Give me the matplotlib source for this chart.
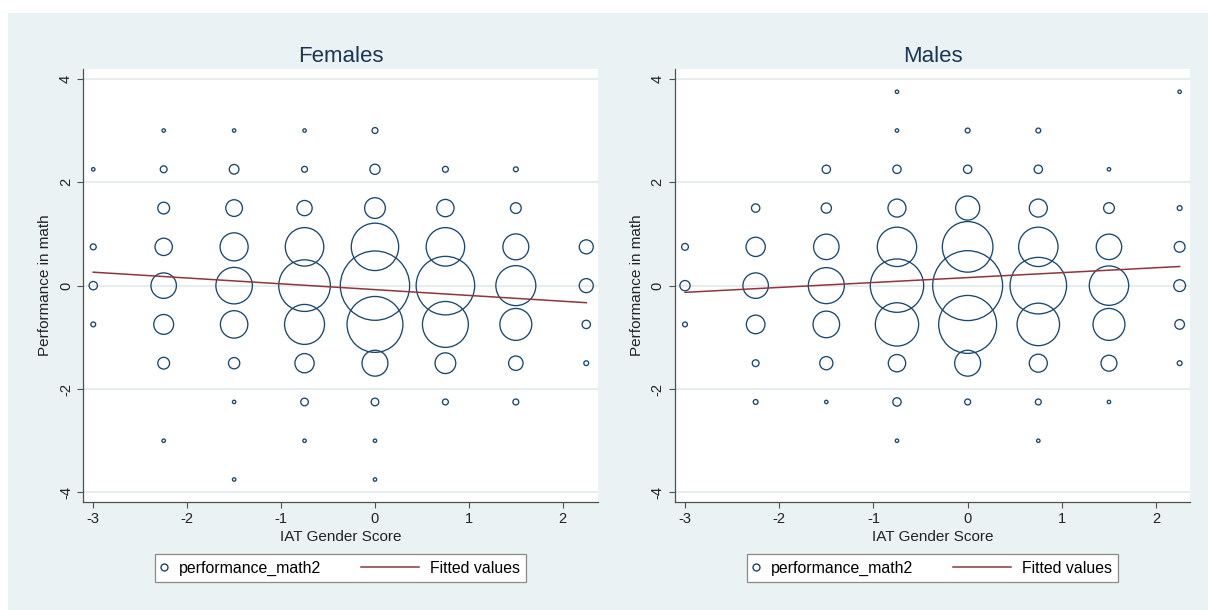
import matplotlib
matplotlib.use("Agg")
import matplotlib.pyplot as plt
from matplotlib.lines import Line2D
from matplotlib.patches import Rectangle
from matplotlib.legend_handler import HandlerLine2D

plt.rcParams['font.family'] = ['Liberation Sans', 'DejaVu Sans']
plt.rcParams['axes.unicode_minus'] = False

# ---------------- data ----------------
panel_titles = ["Females", "Males"]
x_label = "IAT Gender Score"
y_label = "Performance in math"
legend_labels = ["performance_math2", "Fitted values"]
x_ticks = [-3, -2, -1, 0, 1, 2]
y_ticks = [-4, -2, 0, 2, 4]

# Females: IAT score, math performance, frequency (bubble weight)
fem_x = [-3, -3, -3, -3,
         -2.25, -2.25, -2.25, -2.25, -2.25, -2.25, -2.25, -2.25,
         -1.5, -1.5, -1.5, -1.5, -1.5, -1.5, -1.5, -1.5, -1.5,
         -0.75, -0.75, -0.75, -0.75, -0.75, -0.75, -0.75, -0.75, -0.75,
         0, 0, 0, 0, 0, 0, 0, 0, 0, 0,
         0.75, 0.75, 0.75, 0.75, 0.75, 0.75, 0.75,
         1.5, 1.5, 1.5, 1.5, 1.5, 1.5, 1.5,
         2.25, 2.25, 2.25, 2.25]
fem_y = [2.25, 0.75, 0, -0.75,
         3, 2.25, 1.5, 0.75, 0, -0.75, -1.5, -3,
         3, 2.25, 1.5, 0.75, 0, -0.75, -1.5, -2.25, -3.75,
         3, 2.25, 1.5, 0.75, 0, -0.75, -1.5, -2.25, -3,
         3, 2.25, 1.5, 0.75, 0, -0.75, -1.5, -2.25, -3, -3.75,
         2.25, 1.5, 0.75, 0, -0.75, -1.5, -2.25,
         2.25, 1.5, 0.75, 0, -0.75, -1.5, -2.25,
         0.75, 0, -0.75, -1.5]
fem_n = [1, 3, 6, 2,
         1, 4, 12, 26, 56, 34, 12, 1,
         1, 8, 24, 68, 115, 65, 11, 1, 1,
         1, 3, 20, 128, 230, 138, 32, 5, 1,
         3, 9, 37, 194, 415, 270, 58, 5, 1, 1,
         3, 26, 128, 296, 182, 37, 3,
         2, 10, 58, 138, 88, 18, 3,
         17, 17, 6, 2]

# Males
male_x = [-3, -3, -3,
          -2.25, -2.25, -2.25, -2.25, -2.25, -2.25,
          -1.5, -1.5, -1.5, -1.5, -1.5, -1.5, -1.5,
          -0.75, -0.75, -0.75, -0.75, -0.75, -0.75, -0.75, -0.75, -0.75, -0.75,
          0, 0, 0, 0, 0, 0, 0, 0,
          0.75, 0.75, 0.75, 0.75, 0.75, 0.75, 0.75, 0.75, 0.75,
          1.5, 1.5, 1.5, 1.5, 1.5, 1.5, 1.5,
          2.25, 2.25, 2.25, 2.25, 2.25, 2.25]
male_y = [0.75, 0, -0.75,
          1.5, 0.75, 0, -0.75, -1.5, -2.25,
          2.25, 1.5, 0.75, 0, -0.75, -1.5, -2.25,
          3.75, 3, 2.25, 1.5, 0.75, 0, -0.75, -1.5, -2.25, -3,
          3, 2.25, 1.5, 0.75, 0, -0.75, -1.5, -2.25,
          3, 2.25, 1.5, 0.75, 0, -0.75, -1.5, -2.25, -3,
          2.25, 1.5, 0.75, 0, -0.75, -1.5, -2.25,
          3.75, 1.5, 0.75, 0, -0.75, -1.5]
male_n = [4, 9, 2,
          6, 32, 56, 30, 4, 2,
          6, 9, 56, 112, 61, 15, 1,
          1, 1, 6, 28, 134, 246, 162, 26, 6, 1,
          2, 6, 50, 221, 422, 290, 58, 3,
          2, 6, 28, 134, 276, 156, 28, 3, 1,
          1, 10, 56, 134, 88, 22, 1,
          1, 2, 10, 12, 8, 2]

# Fitted values (linear fit) at the ends of the IAT range
fit_x = [-3, 2.25]
fem_fit_y = [0.26, -0.33]
male_fit_y = [-0.13, 0.37]

# ---------------- style ----------------
NAVY = '#1A476F'
MAROON = '#90353B'
BG = '#EAF2F3'
AXCOL = '#505050'
SIZE_PER_COUNT = 6.0

fig = plt.figure(figsize=(12.08, 6.10), dpi=100)
fig.patch.set_facecolor('white')
fig.add_artist(Rectangle((8 / 1208, 0), 1200 / 1208, 597 / 610,
                         transform=fig.transFigure, facecolor=BG,
                         edgecolor='none', zorder=0))


class LongLineHandler(HandlerLine2D):
    def __init__(self, length_pts, **kw):
        super().__init__(**kw)
        self.length_pts = length_pts

    def create_artists(self, legend, orig_handle, xdescent, ydescent,
                       width, height, fontsize, trans):
        y = height / 2 - ydescent
        x1 = width - xdescent
        x0 = x1 - self.length_pts
        line = Line2D([x0, x1], [y, y])
        self.update_prop(line, orig_handle, legend)
        line.set_transform(trans)
        return [line]


panels = [
    (panel_titles[0], fem_x, fem_y, fem_n, fem_fit_y,
     [83.3 / 1208, 0.1766, (598 - 83.3) / 1208, 0.7103], 2.375),
    (panel_titles[1], male_x, male_y, male_n, male_fit_y,
     [675 / 1208, 0.1766, (1190 - 675) / 1208, 0.7103], 2.36),
]

for title, xs, ys, ns, fy, rect, xmax in panels:
    ax = fig.add_axes(rect)
    ax.set_facecolor('white')
    ax.set_zorder(1)
    sizes = [SIZE_PER_COUNT * n for n in ns]
    ax.scatter(xs, ys, s=sizes, facecolors='none', edgecolors=NAVY,
               linewidths=0.95, zorder=3)
    ax.plot(fit_x, fy, color=MAROON, lw=1.1, zorder=4)

    ax.set_xlim(-3.106, xmax)
    ax.set_ylim(-4.19, 4.19)
    ax.set_xticks(x_ticks)
    ax.set_yticks(y_ticks)
    ax.set_xticklabels([str(t) for t in x_ticks])
    ax.set_yticklabels([str(t) for t in y_ticks], rotation=90,
                       va='center', ha='right')
    ax.tick_params(axis='both', colors=AXCOL, labelcolor='#222222',
                   labelsize=10.5, length=4.5, width=0.8)
    ax.tick_params(axis='x', pad=2.5)
    ax.tick_params(axis='y', pad=3)

    for side in ('top', 'right'):
        ax.spines[side].set_visible(False)
    for side in ('left', 'bottom'):
        ax.spines[side].set_color(AXCOL)
        ax.spines[side].set_linewidth(0.9)

    ax.yaxis.grid(True, color='#E4ECEE', lw=1.3)
    ax.xaxis.grid(False)
    ax.set_axisbelow(True)

    ax.set_title(title, fontsize=16, color='#1C3557', pad=5)
    ax.set_xlabel(x_label, fontsize=11, color='#222222', labelpad=3)
    ax.set_ylabel(y_label, fontsize=11, color='#222222', labelpad=5)

    h_marker = Line2D([], [], linestyle='none', marker='o', markersize=5,
                      markerfacecolor='none', markeredgecolor=NAVY,
                      markeredgewidth=1.0)
    h_line = Line2D([], [], color=MAROON, lw=1.1)
    leg = ax.legend([h_marker, h_line], legend_labels, ncol=2,
                    loc='center', bbox_to_anchor=(0.5, -0.1523),
                    fontsize=11.4, frameon=True, fancybox=False,
                    handlelength=0.4, handletextpad=0.7,
                    columnspacing=5.8, borderpad=0.4,
                    handler_map={h_line: LongLineHandler(42)})
    fr = leg.get_frame()
    fr.set_edgecolor('#8A8A8A')
    fr.set_linewidth(0.9)
    fr.set_facecolor('white')
    fr.set_alpha(1)

fig.savefig('out.png', dpi=100, facecolor=fig.get_facecolor())
